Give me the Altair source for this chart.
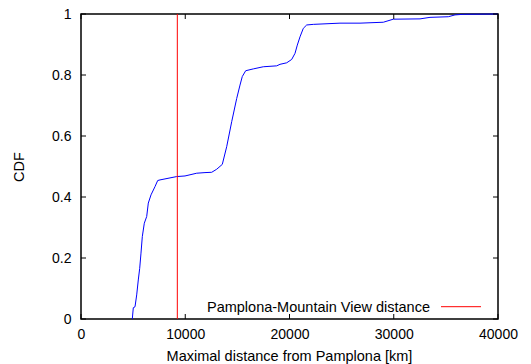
import altair as alt
import pandas as pd

# Blue CDF curve
dist_km = [4921, 5017, 5180, 5343, 5496, 5631, 5755, 5880, 6072, 6302, 6456, 6715,
           7098, 7357, 7578, 9180, 9976, 11098, 11894, 12537, 13017, 13554, 13976,
           14456, 14935, 15252, 15472, 15798, 16528, 17487, 18772, 19089, 19731,
           20211, 20528, 20748, 21007, 21324, 21650, 22283, 24844, 26763, 28998,
           29957, 32518, 33477, 35232, 35875, 36671, 40000]
cdf = [0.0, 0.037, 0.040, 0.079, 0.128, 0.166, 0.216, 0.270, 0.314, 0.336, 0.380, 0.407,
       0.434, 0.454, 0.456, 0.467, 0.469, 0.478, 0.480, 0.481, 0.491, 0.507, 0.565,
       0.647, 0.723, 0.767, 0.795, 0.814, 0.820, 0.827, 0.830, 0.835, 0.840,
       0.851, 0.871, 0.898, 0.925, 0.953, 0.964, 0.966, 0.970, 0.970, 0.973,
       0.983, 0.984, 0.989, 0.991, 0.997, 0.999, 1.0]

ref_distance = [9240]
legend_label = ["Pamplona-Mountain View distance"]

x_ticks = [0, 10000, 20000, 30000, 40000]
y_ticks = [0, 0.2, 0.4, 0.6, 0.8, 1.0]

W, H = 417, 305
FONT = "Liberation Sans"

curve = pd.DataFrame({"d": dist_km, "c": cdf})
xs = alt.Scale(domain=[0, 40000], nice=False)
ys = alt.Scale(domain=[0, 1], nice=False)

line = alt.Chart(curve).mark_line(color="#0000ff", strokeWidth=1).encode(
    x=alt.X("d:Q", scale=xs,
            axis=alt.Axis(values=x_ticks, format="d", title="Maximal distance from Pamplona [km]",
                          titleX=208, titleY=41, titleBaseline="alphabetic", titleAlign="center",
                          labelPadding=8, labelFlush=False, labelOverlap=False)),
    y=alt.Y("c:Q", scale=ys,
            axis=alt.Axis(values=y_ticks, format="~g", title="CDF",
                          titleX=-62, titleY=152.5, titleAngle=270, titleAlign="center",
                          titleBaseline="middle", labelPadding=10, labelFlush=False,
                          labelOverlap=False)),
)

red = alt.Chart(pd.DataFrame({"d": ref_distance})).mark_rule(color="#ff0000", strokeWidth=1).encode(
    x=alt.X("d:Q", scale=xs)
)

xt = pd.DataFrame({"v": x_ticks})
yt = pd.DataFrame({"v": y_ticks})
tick_style = dict(color="#000000", strokeWidth=1)
xb = alt.Chart(xt).mark_rule(**tick_style).encode(x=alt.X("v:Q", scale=xs), y=alt.value(H), y2=alt.value(H - 5))
xtp = alt.Chart(xt).mark_rule(**tick_style).encode(x=alt.X("v:Q", scale=xs), y=alt.value(0), y2=alt.value(5))
yl = alt.Chart(yt).mark_rule(**tick_style).encode(y=alt.Y("v:Q", scale=ys), x=alt.value(0), x2=alt.value(5))
yr = alt.Chart(yt).mark_rule(**tick_style).encode(y=alt.Y("v:Q", scale=ys), x=alt.value(W), x2=alt.value(W - 5))

leg_df = pd.DataFrame({"label": legend_label})
leg_text = alt.Chart(leg_df).mark_text(align="right", baseline="alphabetic", font=FONT,
                                        fontSize=14.5, color="#000000").encode(
    text="label:N", x=alt.value(349), y=alt.value(297.5))
leg_line = alt.Chart(leg_df).mark_rule(color="#ff0000", strokeWidth=1).encode(
    x=alt.value(360), x2=alt.value(400), y=alt.value(292.7))

chart = alt.layer(line, red, xb, xtp, yl, yr, leg_text, leg_line).properties(
    width=W, height=H,
    autosize=alt.AutoSizeParams(type="none"),
    padding={"left": 81, "top": 14, "right": 33, "bottom": 45},
).configure_view(stroke="#000000", strokeWidth=1.5).configure_axis(
    grid=False, ticks=False, tickSize=0, domain=False,
    labelFont=FONT, labelFontSize=14, labelColor="#000000",
    titleFont=FONT, titleFontSize=14.5, titleColor="#000000", titleFontWeight="normal",
)

chart.save("out.html", embed_options={"renderer": "svg", "actions": False})
